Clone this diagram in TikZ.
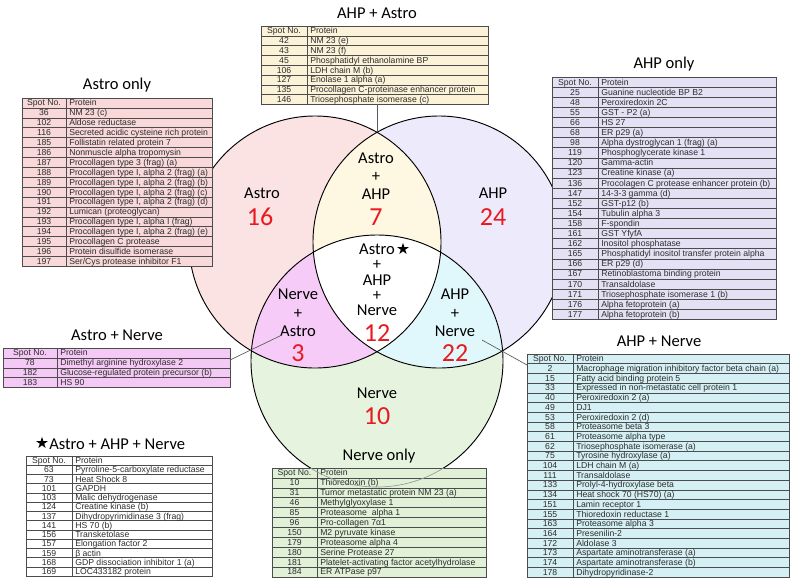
\documentclass[tikz,border=0pt]{standalone}
\usepackage{fontspec}
\setmainfont{Carlito}
\newfontfamily\tabfont{Liberation Sans}
\usetikzlibrary{shapes.geometric}
\definecolor{fAstro}{HTML}{FBE3E3}
\definecolor{fAHP}{HTML}{ECEAFB}
\definecolor{fNerve}{HTML}{E6F4DF}
\definecolor{fAA}{HTML}{FEF7E2}
\definecolor{fAN}{HTML}{F7CBF7}
\definecolor{fHN}{HTML}{E0F8FB}
\definecolor{tAstro}{HTML}{F8D8D8}
\definecolor{tAA}{HTML}{FCF2D8}
\definecolor{tAHP}{HTML}{E4E1F5}
\definecolor{tAN}{HTML}{F5C9F5}
\definecolor{tNerve}{HTML}{E0F1D8}
\definecolor{tHN}{HTML}{D4F0F4}
\definecolor{numred}{HTML}{E8191F}
\tikzset{
  tline/.style={draw=black!70, line width=0.45pt},
  spotcell/.style={anchor=base, inner sep=0pt, font=\tabfont\fontsize{6.5}{7}\selectfont, text=black!82},
  protcell/.style={anchor=base west, inner sep=0pt, font=\tabfont\fontsize{6.5}{7}\selectfont, text=black!82},
  ttl/.style={font=\fontsize{12.4}{14}\selectfont, inner sep=0pt},
  vlab/.style={font=\fontsize{12.4}{14}\selectfont, align=center, inner sep=0pt},
  vnum/.style={font=\fontsize{19.5}{20}\selectfont, text=numred, inner sep=0pt},
  vcirc/.style={draw=black, line width=0.7pt},
  leader/.style={draw=black!65, line width=0.5pt},
  starmark/.style={star, star points=5, star point ratio=2.7, fill=black, inner sep=0pt, minimum size=9.3pt}
}
% #1 name, #2 left, #3 top, #4 spot col width, #5 right, #6 row height, #7 fill, #8 data rows, #9 rows
\newcommand\vtable[9]{%
  \pgfmathsetmacro\vtBot{#3+(#8+1)*#6}%
  \fill[#7] (#2,#3) rectangle (#5,\vtBot);
  \foreach \k in {1,...,#8} \draw[tline] (#2,{#3+\k*#6}) -- (#5,{#3+\k*#6});
  \draw[tline] ({#2+#4},#3) -- ({#2+#4},\vtBot);
  \draw[tline] (#2,#3) rectangle (#5,\vtBot);
  \node[spotcell] (#1-0-s) at ({#2+#4/2},{#3+0.5*#6+3}) {Spot No.};
  \node[protcell] (#1-0-p) at ({#2+#4+3},{#3+0.5*#6+3}) {Protein};
  \foreach \vsp/\vpr [count=\i] in {#9} {
    \node[spotcell] (#1-\i-s) at ({#2+#4/2},{#3+(\i+0.5)*#6+3}) {\vsp};
    \node[protcell] (#1-\i-p) at ({#2+#4+3},{#3+(\i+0.5)*#6+3}) {\vpr};
  }%
}
\begin{document}
\begin{tikzpicture}[x=0.75pt, y=-0.75pt]
\useasboundingbox (0,0) rectangle (800,586);
\fill[white] (0,0) rectangle (800,586);

% Venn
\coordinate (cA) at (315,242);
\coordinate (cH) at (439,242);
\coordinate (cN) at (377,361);
\fill[fAstro] (cA) circle (94.5pt);
\fill[fAHP] (cH) circle (94.5pt);
\fill[fNerve] (cN) circle (94.5pt);
\begin{scope}\clip (cA) circle (94.5pt); \fill[fAA] (cH) circle (94.5pt); \end{scope}
\begin{scope}\clip (cA) circle (94.5pt); \fill[fAN] (cN) circle (94.5pt); \end{scope}
\begin{scope}\clip (cH) circle (94.5pt); \fill[fHN] (cN) circle (94.5pt); \end{scope}
\begin{scope}\clip (cA) circle (94.5pt); \clip (cH) circle (94.5pt); \fill[white] (cN) circle (94.5pt); \end{scope}
\draw[vcirc] (cA) circle (94.5pt);
\draw[vcirc] (cH) circle (94.5pt);
\draw[vcirc] (cN) circle (94.5pt);

% Venn labels
\node[vlab] (lA) at (262,193) {Astro};
\node[vnum] (nA) at (260,217) {16};
\node[vlab, font=\fontsize{12.4}{13.5}\selectfont] (lAA) at (376,176) {Astro\\+\\AHP};
\node[vnum] (nAA) at (376,217) {7};
\node[vlab] (lH) at (493,193) {AHP};
\node[vnum] (nH) at (493,217) {24};
\node[vlab, font=\fontsize{12.4}{11.5}\selectfont] (lC) at (377,280) {Astro\\+\\AHP\\+\\Nerve};
\node[starmark] (sC) at (403,249) {};
\node[vnum] (nC) at (377,333) {12};
\node[vlab] (lAN) at (298,313) {Nerve\\+\\Astro};
\node[vnum] (nAN) at (298,353) {3};
\node[vlab] (lHN) at (455,313) {AHP\\+\\Nerve};
\node[vnum] (nHN) at (455,353) {22};
\node[vlab] (lN) at (377,393) {Nerve};
\node[vnum] (nN) at (377,416) {10};

% Tables
\vtable{AO}{22}{98}{44}{212}{9.9}{tAstro}{16}{36/NM 23 (c), 102/Aldose reductase, 116/Secreted acidic cysteine rich protein, 185/Follistatin related protein 7, 186/Nonmuscle alpha tropomysin, 187/Procollagen type 3 (frag) (a), 188/{Procollagen type I, alpha 2 (frag) (a)}, 189/{Procollagen type I, alpha 2 (frag) (b)}, 190/{Procollagen type I, alpha 2 (frag) (c)}, 191/{Procollagen type I, alpha 2 (frag) (d)}, 192/Lumican (proteoglycan), 193/{Procollagen type I, alpha I (frag)}, 194/{Procollagen type I, alpha 2 (frag) (e)}, 195/Procollagen C protease, 196/Protein disulfide isomerase, 197/{Ser/Cys protease inhibitor F1}}
\node[ttl] (tAO) at (117,85) {Astro only};

\vtable{AA}{261}{26}{46}{488}{9.8}{tAA}{7}{42/NM 23 (e), 43/NM 23 (f), 45/Phosphatidyl ethanolamine BP, 106/LDH chain M (b), 127/Enolase 1 alpha (a), 135/Procollagen C-proteinase enhancer protein, 146/Triosephosphate isomerase (c)}
\node[ttl] (tAA) at (377,13) {AHP + Astro};

\vtable{AH}{552}{77}{46}{776}{10.1}{tAHP}{23}{25/Guanine nucleotide BP B2, 48/Peroxiredoxin 2C, 55/GST - P2 (a), 66/HS 27, 68/ER p29 (a), 98/Alpha dystroglycan 1 (frag) (a), 119/Phosphoglycerate kinase 1, 120/Gamma-actin, 123/Creatine kinase (a), 136/Procolagen C protease enhancer protein (b), 147/14-3-3 gamma (d), 152/GST-p12 (b), 154/Tubulin alpha 3, 158/F-spondin, 161/GST YfyfA, 162/Inositol phosphatase, 165/Phosphatidyl inositol transfer protein alpha, 166/ER p29 (d), 167/Retinoblastoma binding protein, 170/Transaldolase, 171/Triosephosphate isomerase 1 (b), 176/Alpha fetoprotein (a), 177/Alpha fetoprotein (b)}
\node[ttl] (tAH) at (664,64) {AHP only};

\vtable{AN}{3}{348}{54}{230}{9.9}{tAN}{3}{78/Dimethyl arginine hydroxylase 2, 182/Glucose-regulated protein precursor (b), 183/HS 90}
\node[ttl] (tAN) at (117,335) {Astro + Nerve};

\vtable{ST}{26}{456}{46}{212}{9.25}{white}{12}{63/Pyrroline-5-carboxylate reductase, 73/Heat Shock 8, 101/GAPDH, 103/Malic dehydrogenase, 124/Creatine kinase (b), 137/Dihydropyrimidinase 3 (frag), 141/HS 70 (b), 156/Transketolase, 157/Elongation factor 2, 159/β actin, 168/GDP dissociation inhibitor 1 (a), 169/LOC433182 protein}
\node[starmark] (sT) at (42,443) {};
\node[ttl, anchor=west] (tST) at (49,444) {Astro + AHP + Nerve};

\vtable{NO}{272}{468}{45}{486}{9.9}{tNerve}{10}{10/Thioredoxin (b), 31/Tumor metastatic protein NM 23 (a), 46/Methylglyoxylase 1, 85/Proteasome\ \ alpha 1, 96/Pro-collagen 7α1, 150/M2 pyruvate kinase, 179/Proteasome alpha 4, 180/Serine Protease 27, 181/Platelet-activating factor acetylhydrolase, 184/ER ATPase p97}
\node[ttl] (tNO) at (379,456) {Nerve only};
\begin{scope}\clip (272,468) rectangle (486,577); \draw[draw=black!40, line width=0.5pt] (cN) circle (94.5pt); \end{scope}

\vtable{HN}{527}{354}{46}{789}{9.7}{tHN}{22}{2/Macrophage migration inhibitory factor beta chain (a), 15/Fatty acid binding protein 5, 33/Expressed in non-metastatic cell protein 1, 40/Peroxiredoxin 2 (a), 49/DJ1, 53/Peroxiredoxin 2 (d), 58/Proteasome beta 3, 61/Proteasome alpha type, 62/Triosephosphate isomerase (a), 75/Tyrosine hydroxylase (a), 104/LDH chain M (a), 111/Transaldolase, 133/Prolyl-4-hydroxylase beta, 134/Heat shock 70 (HS70) (a), 151/Lamin receptor 1, 155/Thioredoxin reductase 1, 163/Proteasome alpha 3, 164/Presenilin-2, 172/Aldolase 3, 173/Aspartate aminotransferase (a), 174/Aspartate aminotransferase (b), 178/Dihydropyridinase-2}
\node[ttl] (tHN) at (659,341) {AHP + Nerve};

% leaders
\coordinate (AAbot) at (377,104.4);
\coordinate (iTop) at (377,132.3);
\draw[leader] (AAbot) -- (iTop);
\coordinate (ANr) at (230,360);
\coordinate (ANin) at (282,335);
\draw[leader] (ANr) -- (ANin);
\coordinate (HNin) at (482,340);
\coordinate (HNl) at (527,365);
\draw[leader] (HNin) -- (HNl);
\end{tikzpicture}
\end{document}
